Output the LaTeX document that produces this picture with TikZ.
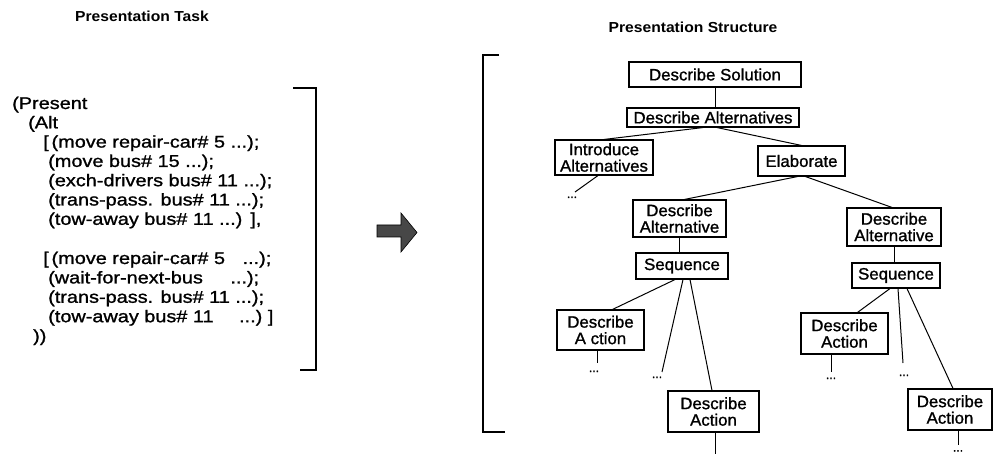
\documentclass[tikz,border=0pt]{standalone}
\usepackage{fontspec}
\setmainfont{Liberation Sans}
\newfontfamily\codefont{Liberation Sans}[FakeStretch=1.17,FakeBold=1.2]
\newfontfamily\nodefont{Liberation Sans}[FakeStretch=1.02,FakeBold=1.2]
\newfontfamily\titlefont{Liberation Sans}[FakeStretch=1.08]
\usetikzlibrary{calc}
\begin{document}
\begin{tikzpicture}[x=1pt,y=-1pt,
  codeline/.style={anchor=base west, inner sep=0pt, font=\codefont\fontsize{17}{19}\selectfont},
  title/.style={inner sep=0pt, font=\titlefont\bfseries\fontsize{14.5}{16}\selectfont},
  tbox/.style={draw, line width=1.1pt, inner sep=0pt, align=center, font=\nodefont\fontsize{16.5}{16.5}\selectfont},
  link/.style={line width=1pt},
  dots/.style={inner sep=0pt, anchor=base, font=\nodefont\fontsize{12}{12}\selectfont},
  bracket/.style={line width=1.1pt},
]
\useasboundingbox (0,0) rectangle (993,454);

% titles
\node[title] (ttask) at (142,16) {Presentation Task};
\node[title] (tstruct) at (693,27) {Presentation Structure};

% presentation task text
\node[codeline] (c1) at (12,109) {(Present};
\node[codeline] (c2) at (28,128.3) {(Alt};
\node[codeline] (c3) at (43,147.6) {[\,(move repair-car\# 5 ...);};
\node[codeline] (c4) at (48,166.9) {(move bus\# 15 ...);};
\node[codeline] (c5) at (48,186.2) {(exch-drivers bus\# 11 ...);};
\node[codeline] (c6) at (48,205.5) {(trans-pass. bus\# 11 ...);};
\node[codeline] (c7) at (48,224.8) {(tow-away bus\# 11 ...)\hspace{8pt}],};
\node[codeline] (c8) at (43,264) {[\,(move repair-car\# 5\hspace{12pt} ...);};
\node[codeline] (c9) at (48,283.4) {(wait-for-next-bus\hspace{22pt} ...);};
\node[codeline] (c10) at (48,302.8) {(trans-pass. bus\# 11 ...);};
\node[codeline] (c11) at (48,322.2) {(tow-away bus\# 11\hspace{20pt} ...)\ ]};
\node[codeline] (c12) at (33,341.6) {))};

% right bracket of task
\draw[bracket] (293,88) -- (316,88) -- (316,370) -- (300,370);

% big arrow
\draw[line width=0.6pt, fill=black!72] (377,225) -- (401,225) -- (401,213) -- (417,232.5)
  -- (401,252) -- (401,237) -- (377,237) -- cycle;

% left bracket of structure
\draw[bracket] (499,55) -- (483,55) -- (483,432) -- (505,432);

% tree nodes
\node[tbox, minimum width=172pt, minimum height=25pt] (sol) at (715,74.5) {Describe Solution};
\node[tbox, minimum width=172pt, minimum height=19pt] (alts) at (713,117.5) {Describe Alternatives};
\node[tbox, minimum width=98pt, minimum height=35pt] (intro) at (604,157.5) {Introduce\\Alternatives};
\node[tbox, minimum width=87pt, minimum height=30pt] (elab) at (801.5,161) {Elaborate};
\node[tbox, minimum width=93pt, minimum height=37pt] (dalt1) at (679.5,218.5) {Describe\\Alternative};
\node[tbox, minimum width=92pt, minimum height=26pt] (seq1) at (682,266) {Sequence};
\node[tbox, minimum width=87pt, minimum height=40pt] (dact1) at (600.5,330) {Describe\\A ction};
\node[tbox, minimum width=91pt, minimum height=41pt] (dact2) at (713.5,411.5) {Describe\\Action};
\node[tbox, minimum width=94pt, minimum height=38pt] (dalt2) at (894,227) {Describe\\Alternative};
\node[tbox, minimum width=88pt, minimum height=25pt] (seq2) at (896,275.5) {Sequence};
\node[tbox, minimum width=87pt, minimum height=41pt] (dact3) at (844.5,333.5) {Describe\\Action};
\node[tbox, minimum width=84pt, minimum height=41pt] (dact4) at (950,409.5) {Describe\\Action};

% connectors
\draw[link] (sol.south) -- (sol.south |- alts.north);
\draw[link] ($(alts.south)+(-10,0)$) -- (intro.north);
\draw[link] ($(alts.south)+(4,0)$) -- (elab.north);

\coordinate (eA) at (575,192);
\draw[link] ($(intro.south)+(-6,0)$) -- (eA);
\node[dots] (dA) at (572,198) {...};

\draw[link] ($(elab.south)+(-4,0)$) -- ($(dalt1.north)+(5,0)$);
\draw[link] ($(elab.south)+(4,0)$) -- ($(dalt2.north)+(-2,0)$);

\draw[link] (dalt1.south) -- (dalt1.south |- seq1.north);
\draw[link] ($(seq1.south)+(-7,0)$) -- ($(dact1.north)+(12,0)$);
\coordinate (eB) at (662,372);
\draw[link] ($(seq1.south)+(1,0)$) -- (eB);
\node[dots] (dB) at (657,378) {...};
\draw[link] ($(seq1.south)+(8,0)$) -- ($(dact2.north)+(-1.5,0)$);

\coordinate (eC) at (597,363);
\draw[link] (dact1.south -| eC) -- (eC);
\node[dots] (dC) at (594,372) {...};
\coordinate (eD) at (715,454);
\draw[link] (dact2.south -| eD) -- (eD);

\draw[link] (dalt2.south) -- (dalt2.south |- seq2.north);
\draw[link] ($(seq2.south)+(-6,0)$) -- ($(dact3.north)+(13,0)$);
\coordinate (eE) at (903,363);
\draw[link] ($(seq2.south)+(2,0)$) -- (eE);
\node[dots] (dE) at (904,376) {...};
\draw[link] ($(seq2.south)+(11,0)$) -- ($(dact4.north)+(3,0)$);

\coordinate (eF) at (831,372);
\draw[link] (dact3.south -| eF) -- (eF);
\node[dots] (dF) at (831,379) {...};
\coordinate (eG) at (958,445);
\draw[link] (dact4.south -| eG) -- (eG);
\node[dots] (dG) at (958,451.5) {...};
\end{tikzpicture}
\end{document}
